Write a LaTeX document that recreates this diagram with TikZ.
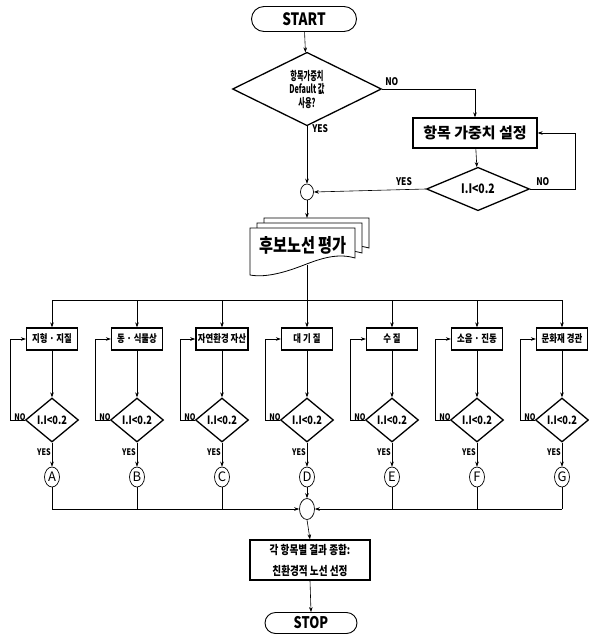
\documentclass[tikz,border=0pt]{standalone}
\usepackage{fontspec}
\newfontfamily\kr{Noto Sans CJK KR}[FakeStretch=0.8]
\newfontfamily\krn{Noto Sans CJK KR}[FakeStretch=0.6]
\newfontfamily\krw{Noto Sans CJK KR}
\usetikzlibrary{shapes.geometric,shapes.misc,arrows.meta}
\begin{document}
\begin{tikzpicture}[x=1pt,y=-1pt,
  >={Stealth[length=5pt,width=3.6pt]},
  every path/.style={line width=0.6pt},
  term/.style={draw, rounded rectangle, line width=0.9pt, inner sep=0pt, font=\kr\bfseries},
  box/.style={draw, line width=1.3pt, fill=white, inner sep=2pt, align=center},
  dia/.style={draw, diamond, line width=1.3pt, inner sep=0pt, align=center},
  junc/.style={draw, ellipse, line width=0.7pt, inner sep=0pt},
  lab/.style={inner sep=0pt, font=\kr\bfseries\fontsize{10.5}{10.5}\selectfont},
  slab/.style={inner sep=0pt, font=\kr\bfseries\fontsize{9}{9}\selectfont},
  sbox/.style={box, minimum width=51pt, minimum height=22pt, inner sep=2pt, font=\kr\bfseries\fontsize{10.5}{10.5}\selectfont},
  sdia/.style={dia, minimum width=53pt, minimum height=44pt, font=\kr\bfseries\fontsize{11.5}{11.5}\selectfont},
  lett/.style={junc, minimum width=15pt, minimum height=20pt, font=\krw\fontsize{13}{13}\selectfont}]
\useasboundingbox (0,0) rectangle (589,643);

% top part
\node[term, minimum width=105pt, minimum height=25pt, font=\kr\bfseries\fontsize{17}{17}\selectfont] (start) at (304,19) {START};
\node[dia, minimum width=149pt, minimum height=68pt, font=\krn\bfseries\fontsize{12}{13.5}\selectfont] (d1) at (307,89) {항목가중치\\Default 값\\사용?};
\node[box, minimum width=124pt, minimum height=30pt, font=\krw\bfseries\fontsize{15}{15}\selectfont] (setw) at (475,133) {항목 가중치 설정};
\node[dia, minimum width=103pt, minimum height=42pt, font=\kr\bfseries\fontsize{13}{13}\selectfont] (d2) at (478,189) {I.I<0.2};
\node[junc, minimum width=13pt, minimum height=16pt] (j1) at (307,192) {};

\draw[->] (start) -- (d1);
\draw[->] (d1.east) -| (setw.north);
\node[lab, anchor=south west] at (385,86) {NO};
\draw[->] (d1.south) -- (j1.north);
\node[lab, anchor=west] at (312,129) {YES};
\draw[->] (setw) -- (d2);
\draw[->] (d2.east) -- ++(45,0) |- (setw.east);
\node[lab, anchor=south west] at (536,186) {NO};
\draw[->] (d2.west) -- (j1.east);
\node[lab, anchor=south] at (404,186) {YES};

% multi-document
\foreach \dx/\dy in {14/-10, 7/-5, 0/0}{
  \begin{scope}[shift={(250+\dx,228+\dy)}]
    \draw[line width=0.8pt, fill=white] (0,0) -- (105,0) -- (105,30)
      .. controls (88,25) and (72,30) .. (54,37)
      .. controls (36,44) and (16,50) .. (0,47) -- cycle;
  \end{scope}
}
\node[inner sep=0pt, font=\kr\bfseries\fontsize{19}{19}\selectfont] (doc) at (303,245) {후보노선 평가};
\coordinate (docTop) at (307,218);
\coordinate (docBot) at (307,265);
\draw[->] (j1.south) -- (docTop);

% top bus
\coordinate (tA) at (52,300);
\coordinate (tG) at (562,300);
\coordinate (tD) at (307,300);
\draw (docBot) -- (tD);
\draw (tA) -- (tG);

% bottom junction
\node[junc, minimum width=15pt, minimum height=21pt] (j2) at (307,509) {};
\coordinate (uA) at (52,509);
\coordinate (uG) at (562,509);
\draw[->] (uA) -- (j2.west);
\draw[->] (uG) -- (j2.east);

\foreach \x/\t/\l [count=\i] in {52/지형 · 지질/A, 137/동 · 식물상/B, 222/자연환경 자산/C, 307/대 기 질/D, 392/수 질/E, 477/소음 · 진동/F, 562/문화재 경관/G}{
  \coordinate (t\l) at (\x,300);
  \coordinate (u\l) at (\x,509);
  \node[sbox] (b\l) at (\x,339) {\t};
  \node[sdia] (q\l) at (\x,420) {I.I<0.2};
  \node[lett] (c\l) at (\x,477) {\l};
  \draw[->] (t\l) -- (b\l.north);
  \draw[->] (b\l) -- (q\l);
  \draw[->] (q\l.west) -- ++(-15,0) |- (b\l.west);
  \node[slab, anchor=south east] at ([xshift=1pt,yshift=-1pt]q\l.west) {NO};
  \draw[->] (q\l.south) -- (c\l.north);
  \node[slab, anchor=east] at (\x-1,452) {YES};
  \ifnum\i=4
    \draw[->] (c\l.south) -- (j2.north);
  \else
    \draw (c\l.south) -- (u\l);
  \fi
}

% final
\node[box, minimum width=120pt, minimum height=40pt, font=\kr\bfseries\fontsize{12}{21}\selectfont] (res) at (310,560) {각 항목별 결과 종합:\\친환경적 노선 선정};
\node[term, minimum width=92pt, minimum height=21pt, font=\kr\bfseries\fontsize{16}{16}\selectfont] (stop) at (311,623) {STOP};
\draw[->] (j2.south) -- (res.north);
\draw[->] (res.south) -- (stop.north);
\end{tikzpicture}
\end{document}
